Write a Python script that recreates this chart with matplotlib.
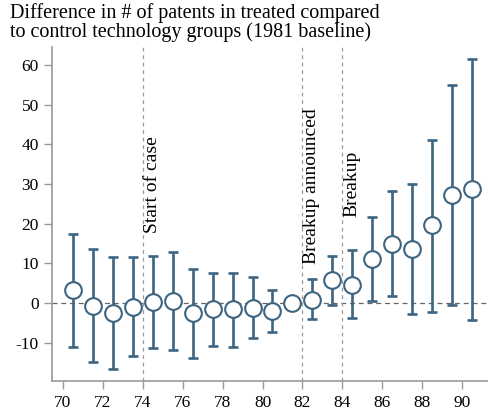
import numpy as np
import matplotlib.pyplot as plt

plt.rcParams['font.family'] = ['Liberation Serif', 'DejaVu Serif']
plt.rcParams['axes.unicode_minus'] = False

# 数据：1970-1990 各年系数及 95% 置信区间
years = list(range(70, 91))
coef = [3.3, -0.6, -2.6, -0.9, 0.3, 0.6, -2.6, -1.4, -1.4, -1.1, -1.9, 0.0,
        0.9, 5.8, 4.6, 11.2, 15.0, 13.7, 19.6, 27.3, 28.8]
ci_hi = [17.4, 13.7, 11.5, 11.5, 12.0, 12.8, 8.5, 7.6, 7.6, 6.6, 3.4, 0.0,
         6.0, 11.8, 13.3, 21.7, 28.2, 30.0, 41.2, 55.0, 61.5]
ci_lo = [-11.0, -14.9, -16.7, -13.4, -11.3, -11.8, -13.7, -10.8, -11.0, -8.8, -7.3, 0.0,
         -4.1, -0.4, -3.8, 0.6, 1.9, -2.8, -2.3, -0.4, -4.3]
events = [(74, 'Start of case', 17.6), (82, 'Breakup announced', 9.8), (84, 'Breakup', 21.7)]
xticks = list(range(70, 91, 2))
yticks = [-10, 0, 10, 20, 30, 40, 50, 60]

col = '#3d6481'
grey = '#9a9a9a'

fig = plt.figure(figsize=(4.89, 4.13), dpi=100)
ax = fig.add_axes([52/489, 32/413, 1 - 52/489, 334/413])

x = np.array(years) + 0.5
c = np.array(coef)
err = np.vstack([c - np.array(ci_lo), np.array(ci_hi) - c])

ax.axhline(0, color='#666666', lw=0.9, ls=(0, (4, 3)), zorder=1)
for yr, lab, ytxt in events:
    ax.axvline(yr, color='#999999', lw=0.9, ls=(0, (3, 3)), zorder=1)
    ax.text(yr + 0.05, ytxt, lab, rotation=90, ha='left', va='bottom', fontsize=14)

ax.errorbar(x, c, yerr=err, fmt='none', ecolor=col, elinewidth=1.9, capsize=3.5,
            capthick=1.9, zorder=2)
ax.plot(x, c, 'o', ms=12, mfc='white', mec=col, mew=1.5, zorder=3)

ax.set_xlim(69.45, 91.35)
ax.set_ylim(-19.6, 64.5)
ax.set_xticks(xticks)
ax.set_yticks(yticks)
ax.tick_params(axis='both', direction='out', length=6, width=1, color=grey, labelsize=12.5)
ax.tick_params(axis='x', pad=4)
for s in ['top', 'right']:
    ax.spines[s].set_visible(False)
for s in ['left', 'bottom']:
    ax.spines[s].set_color(grey)
    ax.spines[s].set_linewidth(1.2)

fig.text(10/489, 1 - 3/413, 'Difference in # of patents in treated compared\nto control technology groups (1981 baseline)',
         ha='left', va='top', fontsize=14.5, linespacing=0.95)

fig.savefig('out.png', dpi=100)
